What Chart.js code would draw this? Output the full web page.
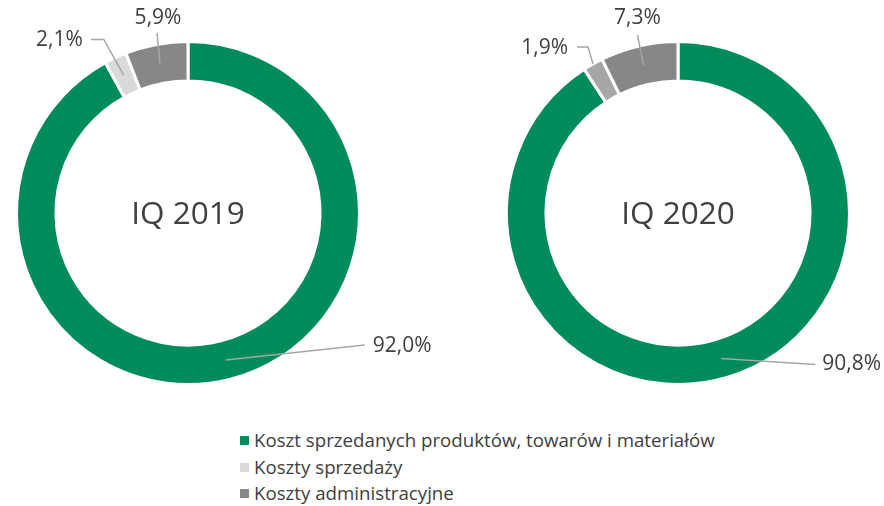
<!DOCTYPE html>
<html>
<head>
<meta charset="utf-8">
<script src="https://cdn.jsdelivr.net/npm/chart.js@4.4.0/dist/chart.umd.min.js"></script>
<style>
  body { margin: 0; background: #fff; width: 884px; height: 506px; overflow: hidden; font-family: "Open Sans", sans-serif; }
  .wrap { position: relative; width: 884px; height: 506px; }
  canvas { position: absolute; left: 0; top: 0; }
  #legend { position: absolute; left: 240px; top: 427px; color: #404040; font-size: 18.7px; }
  #legend div { height: 26.5px; line-height: 26.5px; white-space: nowrap; }
  #legend span.box { display: inline-block; width: 9px; height: 9px; margin-right: 5px; vertical-align: 2px; }
</style>
</head>
<body>
<div class="wrap">
  <canvas id="chart2019" width="884" height="420"></canvas>
  <canvas id="chart2020" width="884" height="420"></canvas>
  <div id="legend"></div>
</div>
<script>
const categories = ['Koszt sprzedanych produktów, towarów i materiałów', 'Koszty sprzedaży', 'Koszty administracyjne'];
const periods = ['IQ 2019', 'IQ 2020'];
const values2019 = [92.0, 2.1, 5.9];
const values2020 = [90.8, 1.9, 7.3];

const legendColors = ['#008c5a', '#d9d9d9', '#878787'];
const colors2019 = ['#008c5a', '#d9d9d9', '#878787'];
const colors2020 = ['#008c5a', '#a6a6a6', '#878787'];

// label placement relative to the arc anchor point (r: 0 = mid ring, 1 = outer edge)
const labels2019 = [
    { r: 0, line: [[139, -15]], text: [147, -14], align: 'left' },
    { r: 0, line: [[-20, -36], [-33, -36]], text: [-41, -35], align: 'right' },
    { r: 0, line: [[-3, -31]], text: [-2, -46], align: 'center' }
];
const labels2020 = [
    { r: 0, line: [[94, 6]], text: [101, 6], align: 'left' },
    { r: 1, line: [[-5, -17], [-16, -17]], text: [-25, -16], align: 'right' },
    { r: 0, line: [[-6, -30]], text: [-6, -47], align: 'center' }
];

const fmt = v => v.toFixed(1).replace('.', ',') + '%';

const doughnutLabels = {
    id: 'doughnutLabels',
    afterDraw(chart, args, opts) {
        const ctx = chart.ctx;
        const meta = chart.getDatasetMeta(0);
        const data = chart.data.datasets[0].data;
        ctx.save();
        meta.data.forEach((arc, i) => {
            const p = arc.getProps(['x', 'y', 'startAngle', 'endAngle', 'innerRadius', 'outerRadius'], true);
            const cfg = opts.layout[i];
            const mid = (p.startAngle + p.endAngle) / 2;
            const rad = cfg.r ? p.outerRadius : (p.innerRadius + p.outerRadius) / 2;
            const ax = p.x + Math.cos(mid) * rad;
            const ay = p.y + Math.sin(mid) * rad;
            ctx.strokeStyle = '#a6a6a6';
            ctx.lineWidth = 1.5;
            ctx.beginPath();
            ctx.moveTo(ax, ay);
            cfg.line.forEach(pt => ctx.lineTo(ax + pt[0], ay + pt[1]));
            ctx.stroke();
            ctx.fillStyle = '#404040';
            ctx.font = '21px "Open Sans"';
            ctx.textAlign = cfg.align;
            ctx.textBaseline = 'middle';
            ctx.fillText(fmt(data[i]), ax + cfg.text[0], ay + cfg.text[1]);
        });
        const first = meta.data[0];
        ctx.font = '31.5px "Open Sans"';
        ctx.textAlign = 'center';
        ctx.textBaseline = 'middle';
        ctx.fillStyle = '#404040';
        ctx.fillText(opts.title, first.x, first.y + 2);
        ctx.restore();
    }
};

function makeChart(id, values, colors, layoutCfg, title, padding) {
    return new Chart(document.getElementById(id), {
        type: 'doughnut',
        data: {
            labels: categories,
            datasets: [{
                data: values,
                backgroundColor: colors,
                borderColor: '#ffffff',
                borderWidth: 3
            }]
        },
        options: {
            responsive: false,
            animation: false,
            cutout: '77%',
            layout: { padding: padding },
            plugins: {
                legend: { display: false },
                tooltip: { enabled: false },
                doughnutLabels: { layout: layoutCfg, title: title }
            }
        },
        plugins: [doughnutLabels]
    });
}

makeChart('chart2019', values2019, colors2019, labels2019, periods[0], { left: 15, right: 523, top: 40, bottom: 34 });
makeChart('chart2020', values2020, colors2020, labels2020, periods[1], { left: 503, right: 31, top: 40, bottom: 34 });

const legend = document.getElementById('legend');
categories.forEach((name, i) => {
    const row = document.createElement('div');
    row.innerHTML = '<span class="box" style="background:' + legendColors[i] + '"></span>' + name;
    legend.appendChild(row);
});
</script>
</body>
</html>
